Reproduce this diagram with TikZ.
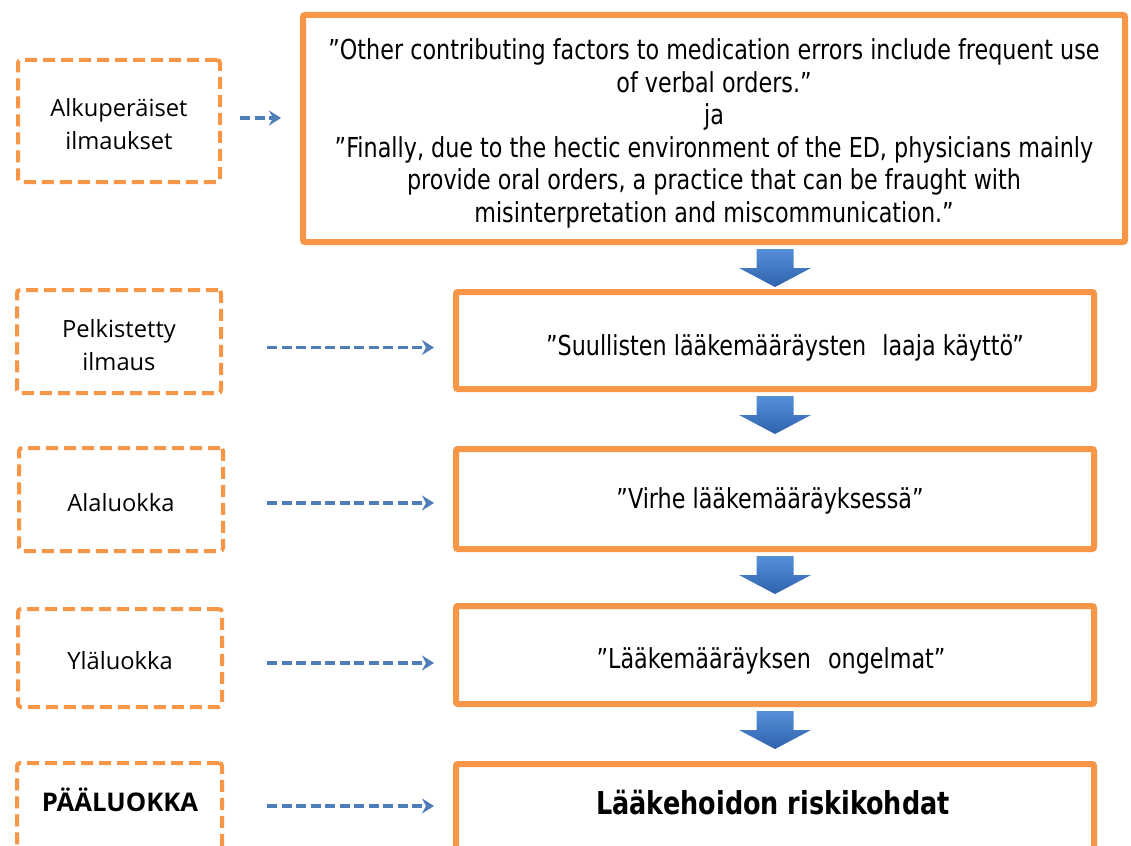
\documentclass[tikz,border=0pt]{standalone}
\usepackage{fontspec}
\setmainfont{Open Sans}
\newfontfamily\boxfont{DejaVu Sans}[FakeStretch=0.81]
\usetikzlibrary{calc,arrows.meta}
\definecolor{boxorange}{HTML}{F79646}
\definecolor{flowbluelight}{HTML}{5690D8}
\definecolor{flowbluedark}{HTML}{2F62AC}
\definecolor{linkblue}{HTML}{4F7DB8}

% downward block arrow hanging from a named coordinate
\newcommand\flowdown[1]{%
  \begin{scope}[shift={(#1)}]
    \shade[top color=flowbluelight, bottom color=flowbluedark]
      (-18.5,0) -- (18.5,0) -- (18.5,19) -- (36,19) -- (0,38)
      -- (-36,19) -- (-18.5,19) -- cycle;
  \end{scope}}

\begin{document}
\begin{tikzpicture}[x=1pt,y=-1pt,
  labelbox/.style={draw=boxorange, line width=4pt, dash pattern=on 12pt off 6pt,
    rounded corners=3pt, inner sep=0pt},
  labeltext/.style={align=center, inner sep=0pt, font=\fontsize{23.7}{33}\selectfont},
  contentbox/.style={draw=boxorange, line width=6pt, rounded corners=2pt, inner sep=0pt},
  contenttext/.style={align=center, inner sep=0pt,
    font=\boxfont\fontsize{27.5}{32.5}\selectfont},
  linkarrow/.style={draw=linkblue, line width=3.7pt, dash pattern=on 10pt off 4.5pt,
    -{Stealth[length=12pt,width=15pt,inset=4pt]}}]
\useasboundingbox (0,0) rectangle (1131,845);
\fill[white] (0,0) rectangle (1131,845);

% left-hand level labels
\node[labelbox, minimum width=202pt, minimum height=122pt] (L1) at (119,121) {};
\node[labelbox, minimum width=204pt, minimum height=103pt] (L2) at (119,341.5) {};
\node[labelbox, minimum width=204pt, minimum height=103pt] (L3) at (121,499.5) {};
\node[labelbox, minimum width=204pt, minimum height=98pt] (L4) at (120,658) {};
\node[labelbox, minimum width=205pt, minimum height=92pt] (L5) at (119.5,809) {};

\node[labeltext] (L1t) at ([yshift=-3pt]L1.center) {Alkuperäiset\\ilmaukset};
\node[labeltext] (L2t) at ([yshift=-4pt]L2.center) {Pelkistetty\\ilmaus};
\node[labeltext] (L3t) at ([yshift=-3pt]L3.center) {Alaluokka};
\node[labeltext] (L4t) at ([yshift=-3pt]L4.center) {Yläluokka};
\node[labeltext, font=\bfseries\fontsize{25.7}{28}\selectfont] (L5t) at (120,800) {PÄÄLUOKKA};

% right-hand content boxes
\node[contentbox, minimum width=822pt, minimum height=227pt] (R1) at (714,128.5) {};
\node[contentbox, minimum width=638pt, minimum height=97pt] (R2) at (775,340.5) {};
\node[contentbox, minimum width=638pt, minimum height=100pt] (R3) at (775,499) {};
\node[contentbox, minimum width=638pt, minimum height=98pt] (R4) at (775,655) {};
\node[contentbox, minimum width=638pt, minimum height=100pt] (R5) at (775,814) {};

\node[contenttext] (R1t) at ([yshift=-5pt]R1.center)
  {”Other contributing factors to medication errors include frequent use\\
   of verbal orders.”\\ ja\\
   ”Finally, due to the hectic environment of the ED, physicians mainly\\
   provide oral orders, a practice that can be fraught with\\
   misinterpretation and miscommunication.”};
\node[contenttext] (R2t) at ([xshift=10pt,yshift=-7pt]R2.center)
  {”Suullisten lääkemääräysten\hspace{9pt} laaja käyttö”};
\node[contenttext] (R3t) at ([xshift=-5pt,yshift=-2pt]R3.center)
  {”Virhe lääkemääräyksessä”};
\node[contenttext] (R4t) at ([xshift=-4pt,yshift=-6pt]R4.center)
  {”Lääkemääräyksen\hspace{10pt} ongelmat”};
\node[contenttext, font=\boxfont\bfseries\fontsize{31.5}{34}\selectfont] (R5t)
  at (773,803) {Lääkehoidon riskikohdat};

% block arrows between the content boxes
\coordinate (A1) at ($(R1.south -| R2.north)+(0,4)$);
\coordinate (A2) at ($(R2.south)+(0,4)$);
\coordinate (A3) at ($(R3.south)+(0,4)$);
\coordinate (A4) at ($(R4.south)+(0,4)$);
\flowdown{A1}
\flowdown{A2}
\flowdown{A3}
\flowdown{A4}

% dashed links from labels to boxes
\draw[linkarrow] ($(L1.east)+(18,-3)$) -- ($(R1.west |- L1.east)+(-19,-3)$);
\draw[linkarrow] ($(L2.east)+(44,6)$) -- ($(R2.west |- L2.east)+(-19,6)$);
\draw[linkarrow] ($(L3.east)+(42,3.5)$) -- ($(R3.west |- L3.east)+(-19,3.5)$);
\draw[linkarrow] ($(L4.east)+(43,5)$) -- ($(R4.west |- L4.east)+(-19,5)$);
\draw[linkarrow] ($(L5.east)+(43,-3)$) -- ($(R5.west |- L5.east)+(-19,-3)$);
\end{tikzpicture}
\end{document}
